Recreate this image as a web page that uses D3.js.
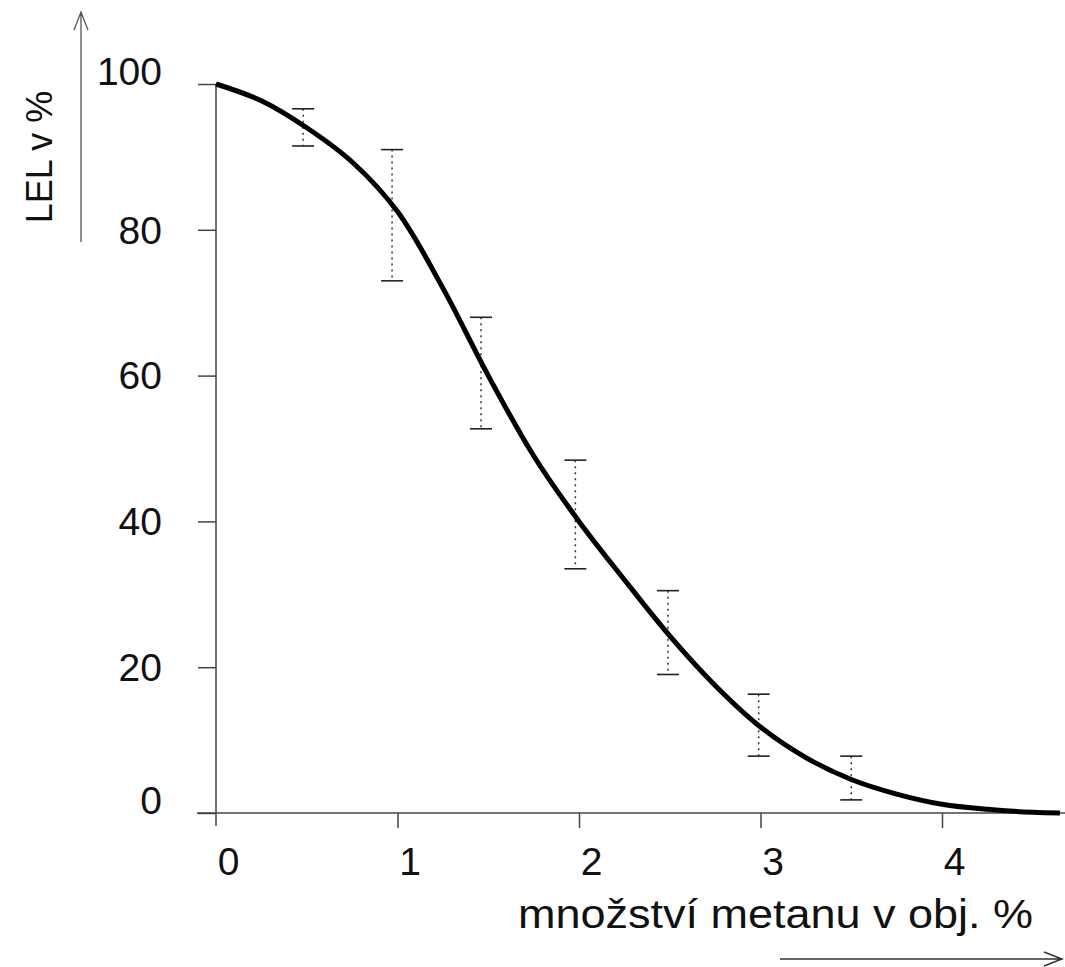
<!DOCTYPE html>
<html>
<head>
<meta charset="utf-8">
<script src="https://cdn.jsdelivr.net/npm/d3@7"></script>
<style>
  body { margin: 0; background: #fff; }
  svg text { font-family: "Liberation Sans", Arial, sans-serif; fill: #111; }
</style>
</head>
<body>
<svg id="chart" width="1065" height="967"></svg>
<script>
// curve
var curveX = [0, 0.25, 0.5, 0.75, 1, 1.25, 1.5, 1.75, 2, 2.25, 2.5, 2.75, 3, 3.25, 3.5, 3.75, 4, 4.25, 4.5, 4.65];
var curveY = [100, 97.7, 94, 89.3, 82.5, 72, 60, 49, 40, 32, 24.3, 17.5, 11.8, 7.6, 4.6, 2.6, 1.2, 0.5, 0.1, 0];

// error bars
var errX = [0.48, 0.97, 1.46, 1.98, 2.49, 2.99, 3.5];
var errHigh = [96.6, 91, 68, 48.4, 30.5, 16.3, 7.8];
var errLow = [91.5, 73, 52.7, 33.5, 19, 7.8, 1.8];

var xTicks = [0, 1, 2, 3, 4];
var yTicks = [0, 20, 40, 60, 80, 100];

var svg = d3.select("#chart");

var x = d3.scaleLinear().domain([0, 4.66]).range([216, 216 + 4.66 * 181.5]);
var y = d3.scaleLinear().domain([0, 100]).range([813, 84]);

var axisColor = "#444";

// y axis
var gy = svg.append("g").attr("transform", "translate(" + x(0) + ",0)")
  .call(d3.axisLeft(y).tickValues(yTicks).tickSize(18).tickPadding(36));
gy.select(".domain").remove();
gy.selectAll(".tick line").attr("stroke", axisColor).attr("stroke-width", 1.5);
gy.selectAll(".tick text").attr("font-size", 39).attr("fill", "#111")
  .attr("dy", function (d) { return d == 100 || d == 0 ? "0.02em" : "0.34em"; });
gy.append("line").attr("x1", 0).attr("x2", 0).attr("y1", y(100)).attr("y2", y(0) + 13)
  .attr("stroke", axisColor).attr("stroke-width", 1.5);

// x axis
var gx = svg.append("g").attr("transform", "translate(0," + y(0) + ")")
  .call(d3.axisBottom(x).tickValues(xTicks).tickFormat(d3.format("d")).tickSize(15));
gx.select(".domain").remove();
gx.selectAll(".tick line").attr("stroke", axisColor).attr("stroke-width", 1.5)
  .attr("opacity", function (d) { return d == 0 ? 0 : 1; });
gx.selectAll(".tick text").attr("font-size", 39).attr("fill", "#111")
  .attr("y", 62).attr("dy", 0).attr("dx", 12);
gx.append("line").attr("x1", 197).attr("x2", 1065).attr("y1", 0).attr("y2", 0)
  .attr("stroke", axisColor).attr("stroke-width", 1.5);

// error bars
var eb = svg.append("g");
errX.forEach(function (v, i) {
  var cx = x(v);
  eb.append("line").attr("x1", cx).attr("x2", cx).attr("y1", y(errHigh[i])).attr("y2", y(errLow[i]))
    .attr("stroke", "#333").attr("stroke-width", 1.5).attr("stroke-dasharray", "2,4");
  [errHigh[i], errLow[i]].forEach(function (e) {
    eb.append("line").attr("x1", cx - 11).attr("x2", cx + 11).attr("y1", y(e)).attr("y2", y(e))
      .attr("stroke", "#222").attr("stroke-width", 1.6);
  });
});

// main curve
var pts = curveX.map(function (d, i) { return [d, curveY[i]]; });
svg.append("path")
  .attr("d", d3.line().x(function (d) { return x(d[0]); }).y(function (d) { return y(d[1]); })
    .curve(d3.curveCatmullRom)(pts))
  .attr("fill", "none").attr("stroke", "#000").attr("stroke-width", 5);

// axis titles
svg.append("text").attr("transform", "translate(52,157) rotate(-90)")
  .attr("text-anchor", "middle").attr("font-size", 36).text("LEL v %");

svg.append("text").attr("x", 518).attr("y", 928).attr("font-size", 40)
  .attr("textLength", 515).attr("lengthAdjust", "spacingAndGlyphs")
  .text("množství metanu v obj. %");

// arrows
svg.append("path").attr("d", "M81,242 L81,12 M74,30 L81,12 L88,30")
  .attr("fill", "none").attr("stroke", "#555").attr("stroke-width", 1.3);
svg.append("path").attr("d", "M780,959 L1062,959 M1044,952 L1062,959 L1044,966")
  .attr("fill", "none").attr("stroke", "#333").attr("stroke-width", 1.5);
</script>
</body>
</html>
